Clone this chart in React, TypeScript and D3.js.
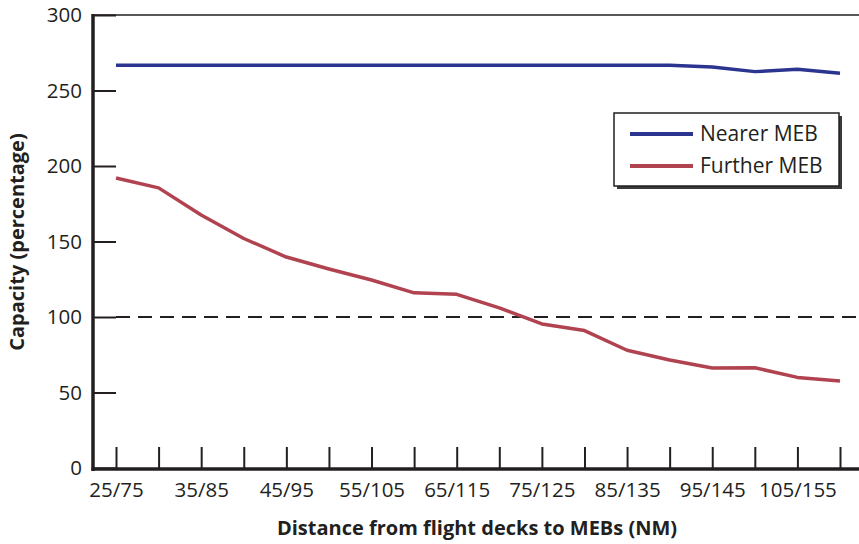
import React, { useEffect, useRef } from "react";
import * as d3 from "d3";

const categories = [
  "25/75", "30/80", "35/85", "40/90", "45/95", "50/100", "55/105", "60/110", "65/115",
  "70/120", "75/125", "80/130", "85/135", "90/140", "95/145", "100/150", "105/155", "110/160",
];
const nearerMEB = [
  266.7, 266.7, 266.7, 266.7, 266.7, 266.7, 266.7, 266.7, 266.7,
  266.7, 266.7, 266.7, 266.7, 266.7, 265.5, 262.5, 264, 261.5,
];
const furtherMEB = [
  192, 185.5, 167.5, 152, 139.7, 131.8, 124.5, 116, 115,
  106, 95.4, 91, 78, 71.5, 66.2, 66.4, 60, 57.6,
];
const yTicks = [0, 50, 100, 150, 200, 250, 300];
const xTickLabels = ["25/75", "35/85", "45/95", "55/105", "65/115", "75/125", "85/135", "95/145", "105/155"];
const threshold = 100;

const series = [
  { name: "Nearer MEB", values: nearerMEB, color: "#2b3590" },
  { name: "Further MEB", values: furtherMEB, color: "#b0434f" },
];

const W = 859;
const H = 544;
const INK = "#231f20";
const FONT = "'Open Sans', 'Noto Sans', sans-serif";

export default function App() {
  const svgRef = useRef<SVGSVGElement | null>(null);

  useEffect(() => {
    if (!svgRef.current) return;
    const svg = d3.select(svgRef.current);
    svg.selectAll("*").remove();

    const axisX = 93;
    const axisY = 469;
    const x = d3.scalePoint<string>().domain(categories).range([116, 840]);
    const y = d3.scaleLinear().domain([0, 300]).range([468, 15]);

    // top frame line
    svg.append("line")
      .attr("x1", axisX).attr("x2", W)
      .attr("y1", y(300)).attr("y2", y(300))
      .attr("stroke", INK).attr("stroke-width", 1.5);

    // y axis
    const yAxis = svg.append("g")
      .attr("transform", `translate(${axisX},0)`)
      .call(d3.axisLeft(y).tickValues(yTicks).tickSizeInner(-23).tickSizeOuter(0).tickPadding(11));
    yAxis.select(".domain").remove();
    yAxis.selectAll(".tick line").attr("stroke", INK).attr("stroke-width", 2);
    yAxis.selectAll(".tick text")
      .attr("fill", INK)
      .style("font-family", FONT)
      .style("font-size", "20.5px");

    // x axis
    const xAxis = svg.append("g")
      .attr("transform", `translate(0,${axisY})`)
      .call(
        d3.axisBottom(x)
          .tickSizeInner(-22)
          .tickSizeOuter(0)
          .tickPadding(13)
          .tickFormat((d) => (xTickLabels.includes(d) ? d : ""))
      );
    xAxis.select(".domain").remove();
    xAxis.selectAll(".tick line").attr("stroke", INK).attr("stroke-width", 2);
    xAxis.selectAll(".tick text")
      .attr("fill", INK)
      .style("font-family", FONT)
      .style("font-size", "20.5px");

    // axis lines (thick)
    svg.append("line")
      .attr("x1", axisX).attr("x2", axisX)
      .attr("y1", y(300) - 1).attr("y2", axisY + 2)
      .attr("stroke", INK).attr("stroke-width", 3.5);
    svg.append("line")
      .attr("x1", axisX - 1.5).attr("x2", W)
      .attr("y1", axisY).attr("y2", axisY)
      .attr("stroke", INK).attr("stroke-width", 3.5);

    // threshold dashed line
    svg.append("line")
      .attr("x1", x(categories[0])!).attr("x2", W)
      .attr("y1", y(threshold)).attr("y2", y(threshold))
      .attr("stroke", INK).attr("stroke-width", 2)
      .attr("stroke-dasharray", "14,8");

    // series lines
    const line = d3.line<number>()
      .x((_, i) => x(categories[i])!)
      .y((d) => y(d));
    series.forEach((s) => {
      svg.append("path")
        .datum(s.values)
        .attr("d", line)
        .attr("fill", "none")
        .attr("stroke", s.color)
        .attr("stroke-width", 3.5)
        .attr("stroke-linejoin", "round");
    });

    // legend
    const lg = svg.append("g").attr("transform", "translate(614,113)");
    lg.append("rect")
      .attr("x", 3).attr("y", 3).attr("width", 225).attr("height", 73)
      .attr("fill", "#3a3a3a");
    lg.append("rect")
      .attr("x", 0).attr("y", 0).attr("width", 225).attr("height", 73)
      .attr("fill", "#fff").attr("stroke", INK).attr("stroke-width", 1.5);
    series.forEach((s, i) => {
      const ly = 21 + i * 32;
      lg.append("line")
        .attr("x1", 16).attr("x2", 79)
        .attr("y1", ly).attr("y2", ly)
        .attr("stroke", s.color).attr("stroke-width", 4);
      lg.append("text")
        .attr("x", 86).attr("y", ly)
        .attr("dy", "0.35em")
        .attr("fill", INK)
        .style("font-family", FONT)
        .style("font-size", "21px")
        .text(s.name);
    });

    // axis titles
    svg.append("text")
      .attr("x", 477).attr("y", 535)
      .attr("text-anchor", "middle")
      .attr("fill", INK)
      .style("font-family", FONT)
      .style("font-size", "20px")
      .style("font-weight", "bold")
      .text("Distance from flight decks to MEBs (NM)");
    svg.append("text")
      .attr("transform", "translate(24,242) rotate(-90)")
      .attr("text-anchor", "middle")
      .attr("fill", INK)
      .style("font-family", FONT)
      .style("font-size", "20px")
      .style("font-weight", "bold")
      .text("Capacity (percentage)");
  }, []);

  return (
    <div style={{ position: "absolute", left: 0, top: 0 }}>
      <svg ref={svgRef} width={W} height={H} style={{ display: "block", background: "#fff" }} />
    </div>
  );
}
